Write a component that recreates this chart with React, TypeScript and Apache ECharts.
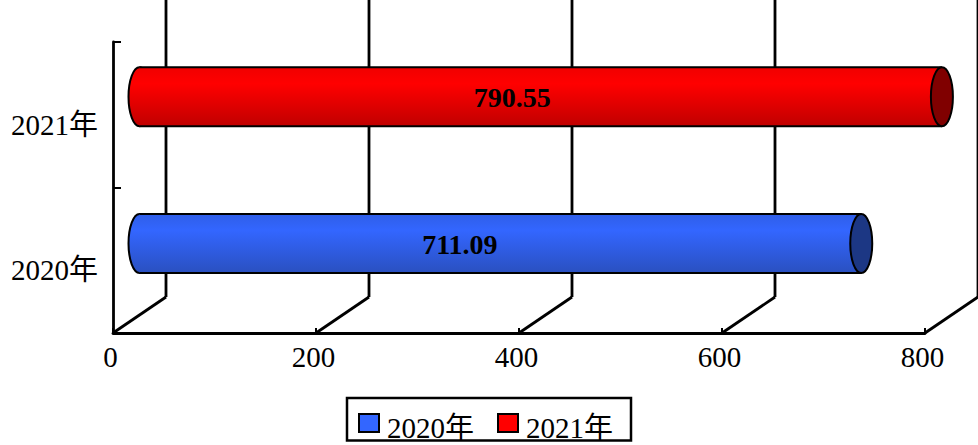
import React, { useEffect, useRef } from "react";
import * as echarts from "echarts";

const categories = ["2020年", "2021年"];
const seriesNames = ["2020年", "2021年"];
const values2020 = [711.09];
const values2021 = [790.55];
const xTicks = [0, 200, 400, 600, 800];

const FONT = '"Liberation Serif", "Noto Sans CJK SC", serif';
const DEPTH_X = 53;
const DEPTH_Y = 36;

function makeBar(
  name: string,
  value: number,
  catIndex: number,
  light: string,
  top: string,
  bottom: string,
  cap: string,
  labelShift: number,
  yShift: number
) {
  return {
    type: "custom",
    name,
    coordinateSystem: "cartesian2d",
    clip: false,
    z: 5,
    itemStyle: { color: light },
    encode: { x: 0, y: 1 },
    data: [[value, catIndex]],
    renderItem: (_p: any, api: any) => {
      const end = api.coord([api.value(0), api.value(1)]);
      const start = api.coord([0, api.value(1)]);
      const mid = api.coord([api.value(0) / 2, api.value(1)]);
      const h = api.size([0, 1])[1] * 0.405;
      const ry = h / 2;
      const rx = 11;
      const cy = end[1] - DEPTH_Y / 2 + yShift;
      const x0 = start[0] + DEPTH_X / 2;
      const x1 = end[0] + DEPTH_X / 2;
      const fill = {
        type: "linear",
        x: 0,
        y: 0,
        x2: 0,
        y2: 1,
        colorStops: [
          { offset: 0, color: top },
          { offset: 0.28, color: light },
          { offset: 1, color: bottom },
        ],
      };
      const stroke = { stroke: "#000", lineWidth: 2 };
      return {
        type: "group",
        children: [
          {
            type: "ellipse",
            shape: { cx: x0, cy, rx, ry },
            style: { fill, ...stroke },
          },
          {
            type: "rect",
            shape: { x: x0, y: cy - ry, width: x1 - x0, height: h },
            style: { fill },
          },
          {
            type: "line",
            shape: { x1: x0, y1: cy - ry, x2: x1, y2: cy - ry },
            style: stroke,
          },
          {
            type: "line",
            shape: { x1: x0, y1: cy + ry, x2: x1, y2: cy + ry },
            style: stroke,
          },
          {
            type: "ellipse",
            shape: { cx: x1, cy, rx, ry },
            style: { fill: cap, ...stroke },
          },
          {
            type: "text",
            style: {
              x: mid[0] + labelShift,
              y: cy + 1,
              text: value.toFixed(2),
              align: "center",
              verticalAlign: "middle",
              fill: "#000",
              font: `bold 28px ${FONT}`,
            },
          },
        ],
      };
    },
  };
}

export default function App() {
  const ref = useRef<HTMLDivElement>(null);
  useEffect(() => {
    const chart = echarts.init(ref.current!, undefined, { renderer: "svg" });
    chart.setOption({
      animation: false,
      backgroundColor: "#fff",
      grid: { left: 113, right: 53, top: 42, height: 291 },
      xAxis: {
        type: "value",
        min: 0,
        max: 800,
        interval: 200,
        splitLine: { show: false },
        axisLine: { show: true, lineStyle: { color: "#000", width: 2.8 } },
        axisTick: { show: true, inside: true, length: 5, lineStyle: { color: "#000", width: 2 } },
        axisLabel: {
          color: "#000",
          fontFamily: FONT,
          fontSize: 29,
          margin: 9,
          hideOverlap: false,
          padding: [0, 5, 0, 0],
        },
      },
      yAxis: {
        type: "category",
        data: categories,
        axisLine: { show: true, lineStyle: { color: "#000", width: 2.8 } },
        axisTick: { show: true, inside: true, length: 8, lineStyle: { color: "#000", width: 2 } },
        axisLabel: {
          color: "#000",
          fontFamily: FONT,
          fontSize: 29,
          margin: 15,
          verticalAlign: "top",
          lineHeight: 20,
        },
      },
      legend: {
        data: seriesNames,
        left: 347,
        top: 398,
        padding: [15, 18, -2, 11],
        itemGap: 23,
        itemWidth: 20,
        itemHeight: 18,
        icon: "rect",
        backgroundColor: "#fff",
        borderColor: "#000",
        borderWidth: 2.5,
        borderRadius: 0,
        itemStyle: { borderColor: "#000", borderWidth: 2 },
        formatter: "{t|{name}}",
        textStyle: {
          color: "#000",
          fontFamily: FONT,
          fontSize: 29,
          padding: [10, 0, 0, 3],
          rich: {
            t: { color: "#000", fontFamily: FONT, fontSize: 29, lineHeight: 9 },
          },
        },
      },
      series: [
        {
          type: "custom",
          coordinateSystem: "cartesian2d",
          clip: false,
          silent: true,
          z: 1,
          encode: { x: 0 },
          data: xTicks.map((t) => [t, 0]),
          renderItem: (params: any, api: any) => {
            const p = api.coord([api.value(0), 0]);
            const bottom = params.coordSys.y + params.coordSys.height;
            const s = { stroke: "#000", lineWidth: 2.8 };
            return {
              type: "group",
              children: [
                {
                  type: "line",
                  shape: { x1: p[0], y1: bottom, x2: p[0] + DEPTH_X, y2: bottom - DEPTH_Y },
                  style: s,
                },
                {
                  type: "line",
                  shape: { x1: p[0] + DEPTH_X, y1: bottom - DEPTH_Y, x2: p[0] + DEPTH_X, y2: 0 },
                  style: s,
                },
              ],
            };
          },
        },
        makeBar(seriesNames[0], values2020[0], 0, "#3366ff", "#2f5ee8", "#2a50c0", "#1c3784", -14, 1.2),
        makeBar(seriesNames[1], values2021[0], 1, "#ff0000", "#f00000", "#c00000", "#800000", -2, 0),
      ],
    });
    return () => chart.dispose();
  }, []);
  return (
    <div
      ref={ref}
      style={{ position: "absolute", left: 0, top: 0, width: 978, height: 445 }}
    />
  );
}
